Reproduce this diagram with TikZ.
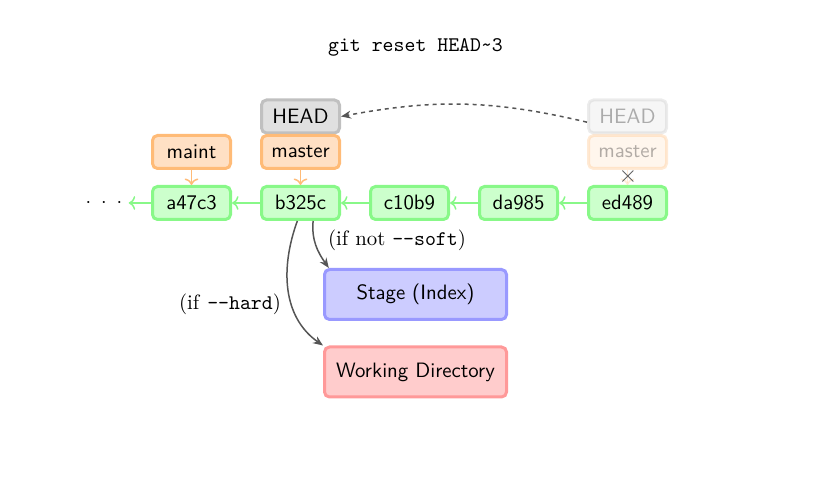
\documentclass[tikz,border=0pt]{standalone}
\usetikzlibrary{arrows.meta}
\definecolor{gfill}{RGB}{204,255,204}
\definecolor{gdraw}{RGB}{136,248,136}
\definecolor{ofill}{RGB}{255,224,196}
\definecolor{odraw}{RGB}{255,187,119}
\definecolor{hfill}{RGB}{224,224,224}
\definecolor{hdraw}{RGB}{192,192,192}
\definecolor{sfill}{RGB}{204,204,255}
\definecolor{sdraw}{RGB}{153,153,255}
\definecolor{wfill}{RGB}{255,204,204}
\definecolor{wdraw}{RGB}{255,153,153}
\definecolor{cline}{RGB}{85,85,85}
\tikzset{
  box/.style={line width=1.5pt, rounded corners=2.5pt, minimum width=39pt, minimum height=16.5pt, inner sep=0pt, font=\sffamily\fontsize{10.4}{12}\selectfont},
  commit/.style={box, draw=gdraw, fill=gfill},
  branch/.style={box, draw=odraw, fill=ofill},
  headbox/.style={box, draw=hdraw, fill=hfill},
  faded/.style={opacity=0.3},
  area/.style={box, minimum width=91pt, minimum height=25pt},
  parent/.style={draw=gdraw, line width=0.75pt, ->},
  points/.style={draw=odraw, line width=0.75pt, ->},
  flow/.style={draw=cline, line width=0.75pt, -{Stealth[length=5pt,width=4pt]}},
  lbl/.style={font=\fontsize{10.4}{12}\selectfont, inner sep=0pt},
}
\begin{document}
\begin{tikzpicture}[x=0.5pt,y=-0.5pt]
\useasboundingbox (0,0) rectangle (831,485);
\node[lbl] (title) at (415.5,47) {\ttfamily git reset HEAD\char`\~3};
% commits
\node[lbl, inner sep=3pt] (dots) at (104,203) {$\cdot\;\cdot\;\cdot$};
\node[commit] (a) at (191.5,203) {a47c3};
\node[commit] (b) at (300.5,203) {b325c};
\node[commit] (c) at (409.5,203) {c10b9};
\node[commit] (d) at (518.5,203) {da985};
\node[commit] (e) at (627.5,203) {ed489};
\draw[parent] (a) -- (dots);
\draw[parent] (b) -- (a);
\draw[parent] (c) -- (b);
\draw[parent] (d) -- (c);
\draw[parent] (e) -- (d);
% branches
\node[branch] (maint) at (191.5,152) {maint};
\draw[points] (maint) -- (a);
\node[headbox] (head) at (300.5,116.5) {HEAD};
\node[branch] (master) at (300.5,152) {master};
\draw[points] (master) -- (b);
% faded old position
\node[headbox,faded] (fhead) at (627.5,116.5) {HEAD};
\node[branch,faded] (fmaster) at (627.5,152) {master};
\draw[points,faded] (fmaster) -- (e);
\node[text=cline, inner sep=0pt] (x) at (628,177) {\large$\times$};
\draw[draw=cline, line width=0.75pt, dash pattern=on 2pt off 2pt, -{Stealth[length=5pt,width=4pt]}] (fhead.-172) to[bend right=12] (head.east);
% areas
\node[area, draw=sdraw, fill=sfill] (stage) at (415.5,294.5) {Stage (Index)};
\node[area, draw=wdraw, fill=wfill] (work) at (415.5,372) {Working Directory};
\draw[flow] (b.-55) to[out=-95,in=125] (stage.163);
\draw[flow] (b.-100) to[out=-110,in=145] (work.north west);
\node[lbl] (lsoft) at (397,240) {(if not \texttt{--soft})};
\node[lbl] (lhard) at (230,304) {(if \texttt{--hard})};
\end{tikzpicture}
\end{document}
